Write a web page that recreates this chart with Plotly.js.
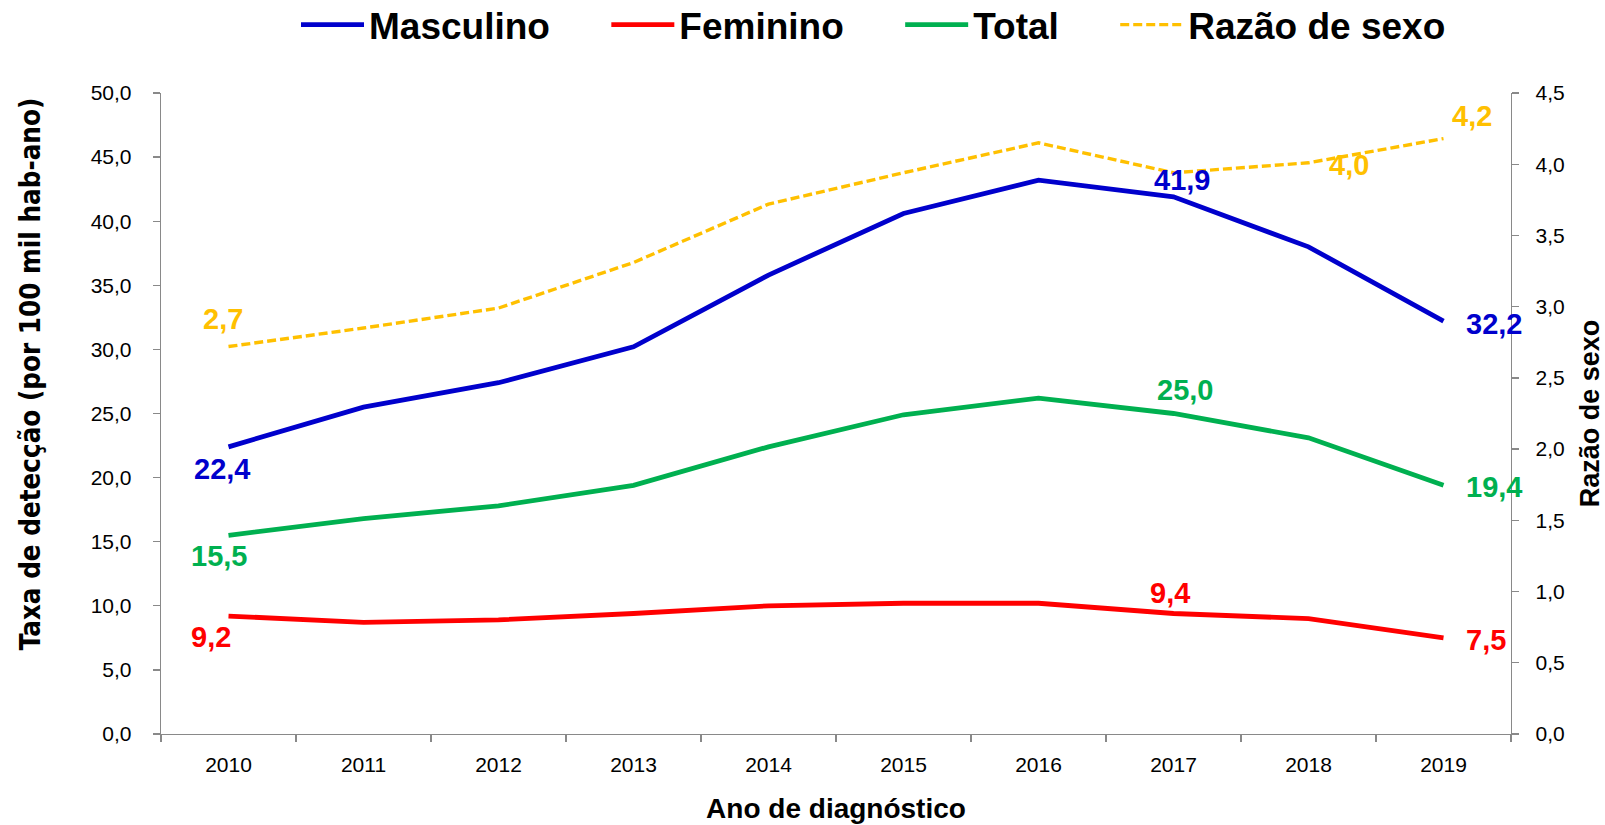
<!DOCTYPE html>
<html>
<head>
<meta charset="utf-8">
<script src="https://cdn.plot.ly/plotly-3.0.1.min.js"></script>
<style>
  html, body { margin: 0; padding: 0; background: #ffffff; }
  #chart { width: 1605px; height: 825px; }
</style>
</head>
<body>
<div id="chart"></div>
<script>
// ---- Data ----
var years      = ['2010', '2011', '2012', '2013', '2014', '2015', '2016', '2017', '2018', '2019'];
var masculino  = [22.4, 25.5, 27.4, 30.2, 35.8, 40.6, 43.2, 41.9, 38.0, 32.2];
var feminino   = [9.2, 8.7, 8.9, 9.4, 10.0, 10.2, 10.2, 9.4, 9.0, 7.5];
var total      = [15.5, 16.8, 17.8, 19.4, 22.4, 24.9, 26.2, 25.0, 23.1, 19.4];
var razaoSexo  = [2.72, 2.85, 2.99, 3.31, 3.72, 3.94, 4.15, 3.94, 4.01, 4.18];

var seriesNames = ['Masculino', 'Feminino', 'Total', 'Razão de sexo'];
var yTitleLeft  = 'Taxa de detecção (por 100 mil hab-ano)';
var yTitleRight = 'Razão de sexo';
var xTitle      = 'Ano de diagnóstico';

// ---- Styles ----
var C_BLUE = '#0000CC', C_RED = '#FF0000', C_GREEN = '#00B050', C_GOLD = '#FFC000';
var AXIS_GREY = '#898989';
var BASE_FONT = 'Liberation Sans, Arial, sans-serif';
var NB = '\u00a0\u00a0\u00a0\u00a0\u00a0';

var traces = [
  { x: years, y: masculino, name: seriesNames[0] + NB, type: 'scatter', mode: 'lines',
    line: { color: C_BLUE, width: 4.8 }, yaxis: 'y' },
  { x: years, y: feminino, name: seriesNames[1] + NB, type: 'scatter', mode: 'lines',
    line: { color: C_RED, width: 4.8 }, yaxis: 'y' },
  { x: years, y: total, name: seriesNames[2] + NB, type: 'scatter', mode: 'lines',
    line: { color: C_GREEN, width: 4.8 }, yaxis: 'y' },
  { x: years, y: razaoSexo, name: seriesNames[3], type: 'scatter', mode: 'lines',
    line: { color: C_GOLD, width: 3.4, dash: '9px,4px' }, yaxis: 'y2' }
];

// ---- Data labels: which point, and where its label sits relative to it ----
var seriesData  = [masculino, feminino, total, razaoSexo];
var seriesColor = [C_BLUE, C_RED, C_GREEN, C_GOLD];
var seriesAxis  = ['y', 'y', 'y', 'y2'];
// [series, point index, xshift, yshift, xanchor]
var labelSpec = [
  [0, 0,  -7, -22, 'center'],
  [2, 0, -10, -21, 'center'],
  [1, 0, -18, -21, 'center'],
  [3, 0,  -6,  28, 'center'],
  [0, 7,   8,  17, 'center'],
  [2, 7,  11,  24, 'center'],
  [1, 7,  -4,  20, 'center'],
  [3, 8,  18,  -2, 'left'],
  [3, 9,   6,  23, 'left'],
  [0, 9,  20,  -3, 'left'],
  [2, 9,  20,  -2, 'left'],
  [1, 9,  20,  -2, 'left']
];

function fmt(v) { return v.toFixed(1).replace('.', ','); }

// category axis: annotation x is the category's serial number
var annotations = labelSpec.map(function (s) {
  var v = seriesData[s[0]][s[1]];
  return {
    x: s[1], y: v, xref: 'x', yref: seriesAxis[s[0]],
    text: fmt(v), showarrow: false,
    xanchor: s[4], yanchor: 'middle', xshift: s[2], yshift: s[3],
    font: { family: BASE_FONT, size: 29, color: seriesColor[s[0]], weight: 'bold' }
  };
});

annotations.push({
  text: yTitleLeft, xref: 'paper', yref: 'paper', x: -0.0975, y: 0.562,
  xanchor: 'center', yanchor: 'middle', showarrow: false, textangle: -90,
  font: { family: 'DejaVu Sans Condensed, DejaVu Sans, sans-serif', size: 27.5, color: '#000000', weight: 'bold' }
});

var layout = {
  width: 1605, height: 825,
  paper_bgcolor: '#ffffff', plot_bgcolor: '#ffffff',
  margin: { l: 161, r: 94, t: 93, b: 91, pad: 0, autoexpand: false },
  separators: ',.',
  font: { family: BASE_FONT, size: 21, color: '#000000' },
  showlegend: true,
  legend: {
    orientation: 'h', x: 0.1, xanchor: 'left', y: 1.106, yanchor: 'middle',
    font: { family: BASE_FONT, size: 37, color: '#000000', weight: 'bold' },
    itemwidth: 63, bgcolor: 'rgba(0,0,0,0)', traceorder: 'normal'
  },
  xaxis: {
    type: 'category', range: [-0.5, 9.5], tickson: 'boundaries',
    ticks: 'outside', ticklen: 7, tickwidth: 1.3, tickcolor: AXIS_GREY,
    showline: true, linecolor: AXIS_GREY, linewidth: 1.3,
    showgrid: false, zeroline: false, ticklabelstandoff: 11,
    tickfont: { family: BASE_FONT, size: 21, color: '#000000' },
    title: { text: xTitle, standoff: 24,
             font: { family: BASE_FONT, size: 28, color: '#000000', weight: 'bold' } }
  },
  yaxis: {
    range: [0, 50], dtick: 5, tick0: 0, tickformat: '.1f',
    ticks: 'outside', ticklen: 7, tickwidth: 1.3, tickcolor: AXIS_GREY,
    showline: true, linecolor: AXIS_GREY, linewidth: 1.3,
    showgrid: false, zeroline: false, ticklabelstandoff: 17,
    tickfont: { family: BASE_FONT, size: 21, color: '#000000' }
  },
  yaxis2: {
    overlaying: 'y', side: 'right', range: [0, 4.5], dtick: 0.5, tick0: 0, tickformat: '.1f',
    ticks: 'outside', ticklen: 7, tickwidth: 1.3, tickcolor: AXIS_GREY,
    showline: true, linecolor: AXIS_GREY, linewidth: 1.3,
    showgrid: false, zeroline: false, ticklabelstandoff: 12,
    tickfont: { family: BASE_FONT, size: 21, color: '#000000' },
    title: { text: yTitleRight, standoff: 18,
             font: { family: BASE_FONT, size: 27, color: '#000000', weight: 'bold' } }
  },
  annotations: annotations
};

Plotly.newPlot('chart', traces, layout, { displayModeBar: false, staticPlot: true });
</script>
</body>
</html>
